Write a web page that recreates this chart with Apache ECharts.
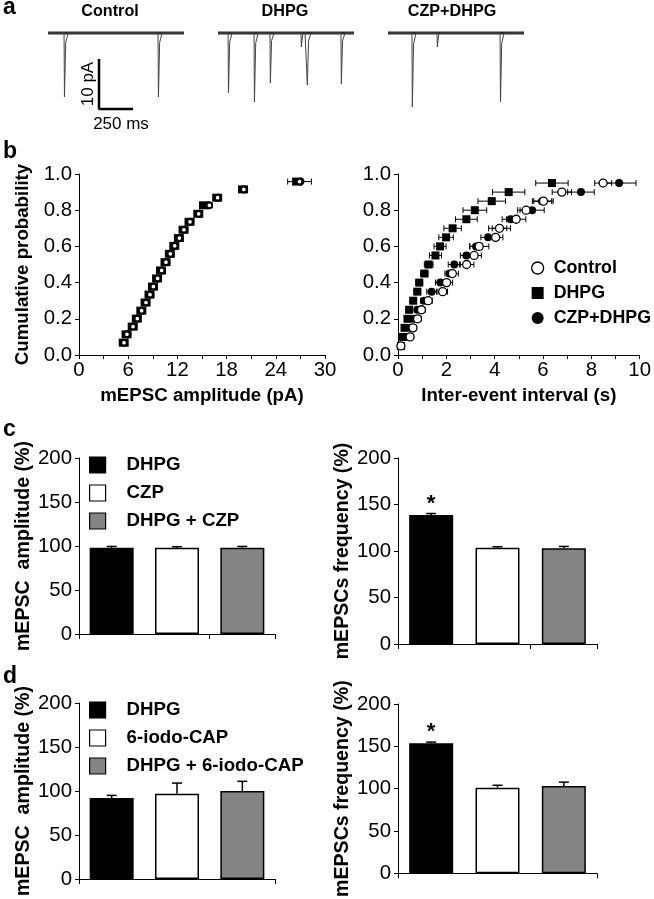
<!DOCTYPE html>
<html><head><meta charset="utf-8">
<script src="https://cdn.jsdelivr.net/npm/echarts@6/dist/echarts.min.js"></script>
<style>html,body{margin:0;padding:0;background:#fff}#c{width:654px;height:899px}</style>
</head><body><div id="c"></div>
<script>
// ---------------- DATA ----------------
// panel a: example traces (event times in ms, amplitudes in pA)
const traceTitles = ['Control', 'DHPG', 'CZP+DHPG'];
const traceDurationMs = 1000;
const controlEventTimes = [118, 809];
const controlEventAmps = [12.8, 12.8];
const dhpgEventTimes = [74, 265, 382, 610, 654, 904];
const dhpgEventAmps = [12, 13.8, 10, 2.8, 10.4, 10.2];
const czpEventTimes = [176, 360, 824];
const czpEventAmps = [14.8, 2.8, 13.8];
const scaleBarPA = 10;
const scaleBarMs = 250;

// panel b left: cumulative mEPSC amplitude
const ampProb = [0.068, 0.114, 0.157, 0.201, 0.245, 0.290, 0.334, 0.378, 0.423, 0.467, 0.513, 0.559, 0.603, 0.646, 0.692, 0.736, 0.780, 0.827, 0.869, 0.915, 0.958];
const ampControl = [5.49, 5.85, 6.59, 7.11, 7.64, 8.17, 8.66, 9.07, 9.59, 10.08, 10.61, 11.14, 11.67, 12.24, 12.80, 13.54, 14.59, 15.90, 16.90, 20.10, 26.90];
const ampDHPG = [5.45, 5.80, 6.55, 7.05, 7.60, 8.12, 8.60, 9.02, 9.52, 10.00, 10.55, 11.08, 11.62, 12.18, 12.75, 13.48, 14.55, 15.24, 16.85, 20.00, 26.60];
const ampCZP = [5.50, 5.88, 6.62, 7.15, 7.68, 8.20, 8.70, 9.10, 9.62, 10.12, 10.65, 11.18, 11.70, 12.28, 12.85, 13.58, 14.62, 15.85, 16.95, 20.15, 27.00];
const ampControlErr = [0.1, 0.1, 0.12, 0.12, 0.15, 0.15, 0.18, 0.2, 0.25, 0.3, 0.3, 0.25, 0.25, 0.25, 0.3, 0.3, 0.3, 0.35, 0.35, 0.45, 1.45];

// panel b right: cumulative inter-event interval
const iviProb = [0.05, 0.10, 0.15, 0.20, 0.25, 0.30, 0.35, 0.40, 0.45, 0.50, 0.55, 0.60, 0.65, 0.70, 0.75, 0.80, 0.85, 0.90, 0.95];
const iviControl = [0.12, 0.50, 0.62, 0.81, 0.97, 1.25, 1.85, 2.01, 2.25, 2.84, 3.15, 3.36, 4.04, 4.20, 4.89, 5.30, 6.02, 6.78, 8.49];
const iviControlErr = [0.04, 0.1, 0.12, 0.15, 0.15, 0.17, 0.2, 0.25, 0.25, 0.3, 0.3, 0.4, 0.3, 0.45, 0.4, 0.35, 0.4, 0.4, 0.35];
const iviDHPG = [0.12, 0.19, 0.27, 0.39, 0.46, 0.63, 0.80, 0.88, 1.09, 1.27, 1.55, 1.74, 1.99, 2.26, 2.83, 3.18, 3.88, 4.58, 6.37];
const iviDHPGErr = [0.04, 0.07, 0.09, 0.1, 0.12, 0.13, 0.14, 0.14, 0.15, 0.18, 0.25, 0.25, 0.3, 0.36, 0.45, 0.49, 0.57, 0.67, 0.67];
const iviCZP = [0.12, 0.34, 0.50, 0.63, 0.80, 1.08, 1.39, 1.75, 2.14, 2.33, 2.83, 3.23, 3.73, 4.20, 4.66, 5.55, 5.96, 7.57, 9.15];
const iviCZPErr = [0.04, 0.08, 0.1, 0.12, 0.12, 0.15, 0.2, 0.2, 0.2, 0.25, 0.25, 0.25, 0.3, 0.3, 0.35, 0.5, 0.4, 0.55, 0.7];

// panel c
const cCategories = ['DHPG', 'CZP', 'DHPG + CZP'];
const cAmp = [98, 98, 98];
const cAmpErr = [1.5, 1.2, 1.5];
const cFreq = [138.8, 103.6, 102.9];
const cFreqErr = [1.5, 1.0, 2.0];
const cFreqSig = ['*', '', ''];
// panel d
const dCategories = ['DHPG', '6-iodo-CAP', 'DHPG + 6-iodo-CAP'];
const dAmp = [92, 97, 100];
const dAmpErr = [3, 12, 11];
const dFreq = [153.7, 101.2, 103.0];
const dFreqErr = [1.3, 2.8, 4.7];
const dFreqSig = ['*', '', ''];
const noSig = ['', '', ''];

// ---------------- STYLE / HELPERS ----------------
function hasFont(name) {
  const ctx = document.createElement('canvas').getContext('2d');
  const s = 'Control mEPSC 0123456789';
  ctx.font = '40px monospace';
  const w1 = ctx.measureText(s).width;
  ctx.font = '40px "' + name + '", monospace';
  const w2 = ctx.measureText(s).width;
  return Math.abs(w1 - w2) > 0.5;
}
const NARROW = hasFont('Liberation Sans Narrow');
const FF = NARROW ? '"Liberation Sans Narrow", "Liberation Sans", Arial, sans-serif' : '"Liberation Sans", Arial, sans-serif';
const K = NARROW ? 1 : 0.85;
const fs = n => Math.round(n * K * 10) / 10;

const barColors = ['#000000', '#ffffff', '#848484'];

function buildTrace(times, amps) {
  const pts = [[0, 0]];
  times.forEach((t, i) => {
    pts.push([t, 0], [t + 3, -amps[i]], [t + 12, -amps[i] * 0.15], [t + 30, 0]);
  });
  pts.push([traceDurationMs, 0]);
  return pts;
}

const axisLineStyle = { show: true, lineStyle: { color: '#000', width: 1 } };

function hErr(ax, xs, ys, errs) {
  return {
    type: 'custom', xAxisIndex: ax, yAxisIndex: ax, z: 1, silent: true,
    encode: { x: 0, y: 1 },
    data: xs.map((x, i) => [x, ys[i], errs[i]]),
    renderItem: (params, api) => {
      const x = api.value(0), y = api.value(1), e = api.value(2);
      const a = api.coord([x - e, y]), b = api.coord([x + e, y]);
      const h = 3, st = { stroke: '#000', lineWidth: 1 };
      return { type: 'group', children: [
        { type: 'line', shape: { x1: a[0], y1: a[1], x2: b[0], y2: b[1] }, style: st },
        { type: 'line', shape: { x1: a[0], y1: a[1] - h, x2: a[0], y2: a[1] + h }, style: st },
        { type: 'line', shape: { x1: b[0], y1: b[1] - h, x2: b[0], y2: b[1] + h }, style: st }
      ] };
    }
  };
}
function vErr(ax, vals, errs) {
  return {
    type: 'custom', xAxisIndex: ax, yAxisIndex: ax, z: 5, silent: true,
    encode: { x: 0, y: 1 },
    data: vals.map((v, i) => [i, v, errs[i]]),
    renderItem: (params, api) => {
      const i = api.value(0), v = api.value(1), e = api.value(2);
      const p = api.coord([i, v]), q = api.coord([i, v + e]);
      const st = { stroke: '#000', lineWidth: 1.5 };
      return { type: 'group', children: [
        { type: 'line', shape: { x1: p[0], y1: p[1], x2: q[0], y2: q[1] }, style: st },
        { type: 'line', shape: { x1: q[0] - 5, y1: q[1], x2: q[0] + 5, y2: q[1] }, style: st }
      ] };
    }
  };
}
function barSeries(ax, names, vals, sig) {
  return names.map((nm, i) => ({
    type: 'bar', name: nm, xAxisIndex: ax, yAxisIndex: ax, barWidth: 44, barGap: '-100%',
    itemStyle: { color: barColors[i], borderColor: '#000', borderWidth: 1.5, opacity: 1 },
    data: vals.map((v, j) => {
      if (j !== i) return '-';
      if (sig[j]) return { value: v, label: { show: true, position: 'top', distance: 0, formatter: sig[j], fontSize: fs(26), fontWeight: 'bold', color: '#000', fontFamily: FF } };
      return v;
    })
  }));
}

// grids
const grids = [
  { left: 48, top: 23, width: 136, height: 90 },
  { left: 218, top: 23, width: 136, height: 90 },
  { left: 388, top: 23, width: 136, height: 90 },
  { left: 79, top: 174, width: 246, height: 181 },
  { left: 398, top: 174, width: 247, height: 181 },
  { left: 79, top: 458, width: 196, height: 176 },
  { left: 398, top: 458, width: 199, height: 186 },
  { left: 79, top: 703, width: 196, height: 176 },
  { left: 398, top: 704, width: 199, height: 186 }
];

const xAxes = [], yAxes = [];
for (let i = 0; i < 3; i++) {
  xAxes.push({ gridIndex: i, type: 'value', min: 0, max: traceDurationMs, show: false });
  yAxes.push({ gridIndex: i, type: 'value', min: -16, max: 2, show: false });
}
const tickLbl = { color: '#000', fontSize: fs(24), fontFamily: FF };
const nameSt = { color: '#000', fontSize: fs(22), fontWeight: 'bold', fontFamily: FF };
// b left
xAxes.push({ gridIndex: 3, type: 'value', min: 0, max: 30, interval: 3, axisLine: axisLineStyle,
  axisTick: { show: true, length: 4, lineStyle: { color: '#000' } }, splitLine: { show: false },
  axisLabel: Object.assign({ margin: 5, formatter: v => (v % 6 === 0 ? String(v) : '') }, tickLbl),
  name: 'mEPSC amplitude (pA)', nameLocation: 'middle', nameGap: 31, nameTextStyle: nameSt });
yAxes.push({ gridIndex: 3, type: 'value', min: 0, max: 1, interval: 0.2, axisLine: axisLineStyle,
  axisTick: { show: true, length: 4, lineStyle: { color: '#000' } }, splitLine: { show: false },
  axisLabel: Object.assign({ margin: 7, formatter: v => v.toFixed(1) }, tickLbl),
  name: 'Cumulative probability', nameLocation: 'middle', nameGap: 47, nameTextStyle: nameSt });
// b right
xAxes.push({ gridIndex: 4, type: 'value', min: 0, max: 10, interval: 1, axisLine: axisLineStyle,
  axisTick: { show: true, length: 4, lineStyle: { color: '#000' } }, splitLine: { show: false },
  axisLabel: Object.assign({ margin: 5, formatter: v => (v % 2 === 0 ? String(v) : '') }, tickLbl),
  name: 'Inter-event interval (s)', nameLocation: 'middle', nameGap: 31, nameTextStyle: nameSt });
yAxes.push({ gridIndex: 4, type: 'value', min: 0, max: 1, interval: 0.2, axisLine: axisLineStyle,
  axisTick: { show: true, length: 4, lineStyle: { color: '#000' } }, splitLine: { show: false },
  axisLabel: Object.assign({ margin: 7, formatter: v => v.toFixed(1) }, tickLbl) });
// bar panels
const barPanels = [
  { cats: cCategories, title: 'mEPSC  amplitude (%)', gap: 42 },
  { cats: cCategories, title: 'mEPSCs frequency (%)', gap: 33 },
  { cats: dCategories, title: 'mEPSC  amplitude (%)', gap: 42 },
  { cats: dCategories, title: 'mEPSCs frequency (%)', gap: 33 }
];
barPanels.forEach((p, k) => {
  const g = 5 + k;
  xAxes.push({ gridIndex: g, type: 'category', data: p.cats, axisLine: axisLineStyle,
    axisTick: { show: true, length: 5, lineStyle: { color: '#000' } }, axisLabel: { show: false } });
  yAxes.push({ gridIndex: g, type: 'value', min: 0, max: 200, interval: 50, axisLine: axisLineStyle,
    axisTick: { show: true, length: 4, lineStyle: { color: '#000' } }, splitLine: { show: false },
    axisLabel: Object.assign({ margin: 7 }, tickLbl),
    name: p.title, nameLocation: 'middle', nameGap: p.gap, nameTextStyle: Object.assign({}, nameSt, { fontSize: fs(23) }) });
});

const series = [];
// traces
[[controlEventTimes, controlEventAmps], [dhpgEventTimes, dhpgEventAmps], [czpEventTimes, czpEventAmps]].forEach((ev, i) => {
  series.push({ type: 'line', xAxisIndex: i, yAxisIndex: i, showSymbol: false, symbol: 'none', silent: true,
    data: [[0, 0], [traceDurationMs, 0]], lineStyle: { color: '#2b2b2b', width: 3 } });
  series.push({ type: 'line', xAxisIndex: i, yAxisIndex: i, showSymbol: false, symbol: 'none', silent: true,
    data: buildTrace(ev[0], ev[1]), lineStyle: { color: '#444', width: 1 } });
});
// scale bar (in control trace coordinates)
const sbX0 = 375, sbY0 = -5.2;
series.push({ type: 'line', xAxisIndex: 0, yAxisIndex: 0, symbol: 'none', silent: true,
  data: [[sbX0, sbY0], [sbX0, sbY0 - scaleBarPA], [sbX0 + scaleBarMs, sbY0 - scaleBarPA]],
  lineStyle: { color: '#000', width: 2.5 } });

// b left
series.push(hErr(3, ampControl, ampProb, ampControlErr));
series.push({ type: 'scatter', name: 'DHPG', xAxisIndex: 3, yAxisIndex: 3, symbol: 'rect', symbolSize: [10, 8], z: 2,
  itemStyle: { color: '#000', opacity: 1 }, data: ampDHPG.map((x, i) => [x, ampProb[i]]) });
series.push({ type: 'scatter', name: 'CZP+DHPG', xAxisIndex: 3, yAxisIndex: 3, symbol: 'circle', symbolSize: 8, z: 2,
  itemStyle: { color: '#000', opacity: 1 }, data: ampCZP.map((x, i) => [x, ampProb[i]]) });
series.push({ type: 'scatter', name: 'Control', xAxisIndex: 3, yAxisIndex: 3, symbol: 'circle', symbolSize: 5, z: 3,
  itemStyle: { color: '#fff', borderColor: '#000', borderWidth: 1.3, opacity: 1 }, data: ampControl.map((x, i) => [x, ampProb[i]]) });
// b right
series.push(hErr(4, iviDHPG, iviProb, iviDHPGErr));
series.push(hErr(4, iviCZP, iviProb, iviCZPErr));
series.push(hErr(4, iviControl, iviProb, iviControlErr));
series.push({ type: 'scatter', name: 'DHPG', xAxisIndex: 4, yAxisIndex: 4, symbol: 'rect', symbolSize: 8, z: 2,
  itemStyle: { color: '#000', opacity: 1 }, data: iviDHPG.map((x, i) => [x, iviProb[i]]) });
series.push({ type: 'scatter', name: 'CZP+DHPG', xAxisIndex: 4, yAxisIndex: 4, symbol: 'circle', symbolSize: 8, z: 2,
  itemStyle: { color: '#000', opacity: 1 }, data: iviCZP.map((x, i) => [x, iviProb[i]]) });
series.push({ type: 'scatter', name: 'Control', xAxisIndex: 4, yAxisIndex: 4, symbol: 'circle', symbolSize: 8, z: 3,
  itemStyle: { color: '#fff', borderColor: '#000', borderWidth: 1.3, opacity: 1 }, data: iviControl.map((x, i) => [x, iviProb[i]]) });
// bars
series.push(...barSeries(5, cCategories, cAmp, noSig), vErr(5, cAmp, cAmpErr));
series.push(...barSeries(6, cCategories, cFreq, cFreqSig), vErr(6, cFreq, cFreqErr));
series.push(...barSeries(7, dCategories, dAmp, noSig), vErr(7, dAmp, dAmpErr));
series.push(...barSeries(8, dCategories, dFreq, dFreqSig), vErr(8, dFreq, dFreqErr));

const legendText = { color: '#000', fontSize: fs(22), fontWeight: 'bold', fontFamily: FF, lineHeight: 22 };
function barLegend(names, top) {
  return { orient: 'vertical', left: 89, top: top, padding: 0, itemGap: 6, itemWidth: 16, itemHeight: 16,
    selectedMode: false, textStyle: Object.assign({ padding: [0, 0, 0, 16] }, legendText),
    data: names.map((n, i) => ({ name: n, icon: 'rect', itemStyle: { color: barColors[i], borderColor: '#000', borderWidth: 1.2, opacity: 1 } })) };
}

const titleSt = sz => ({ color: '#000', fontSize: fs(sz), fontWeight: 'bold', fontFamily: FF });
const option = {
  animation: false,
  backgroundColor: '#fff',
  textStyle: { fontFamily: FF, color: '#000' },
  title: [
    { text: 'a', left: 3, top: -4, textStyle: titleSt(27), padding: 0 },
    { text: 'b', left: 3, top: 140, textStyle: titleSt(27), padding: 0 },
    { text: 'c', left: 3, top: 418, textStyle: titleSt(27), padding: 0 },
    { text: 'd', left: 3, top: 665, textStyle: titleSt(27), padding: 0 },
    { text: traceTitles[0], left: 110, textAlign: 'center', top: 4, textStyle: titleSt(19), padding: 0 },
    { text: traceTitles[1], left: 285, textAlign: 'center', top: 4, textStyle: titleSt(19), padding: 0 },
    { text: traceTitles[2], left: 452, textAlign: 'center', top: 4, textStyle: titleSt(19), padding: 0 }
  ],
  legend: [
    { orient: 'vertical', left: 531, top: 257, padding: 0, itemGap: 3, itemWidth: 12, itemHeight: 12, selectedMode: false,
      textStyle: Object.assign({ padding: [0, 0, 0, 5] }, legendText, { fontSize: fs(21) }),
      data: [
        { name: 'Control', icon: 'circle', itemStyle: { color: '#fff', borderColor: '#000', borderWidth: 1.3, opacity: 1 } },
        { name: 'DHPG', icon: 'rect', itemStyle: { color: '#000', borderWidth: 0, opacity: 1 } },
        { name: 'CZP+DHPG', icon: 'circle', itemStyle: { color: '#000', borderWidth: 0, opacity: 1 } }
      ] },
    barLegend(cCategories, 454),
    barLegend(dCategories, 699)
  ],
  grid: grids,
  xAxis: xAxes,
  yAxis: yAxes,
  series: series,
  graphic: [
    { type: 'text', x: 88, y: 84, rotation: Math.PI / 2, style: { text: scaleBarPA + ' pA', font: fs(20) + 'px ' + FF, fill: '#000', textAlign: 'center', textVerticalAlign: 'middle' } },
    { type: 'text', x: 121, y: 124, style: { text: scaleBarMs + ' ms', font: fs(20) + 'px ' + FF, fill: '#000', textAlign: 'center', textVerticalAlign: 'middle' } }
  ]
};
const chart = echarts.init(document.getElementById('c'), null, { renderer: 'canvas' });
chart.setOption(option);
</script></body></html>
